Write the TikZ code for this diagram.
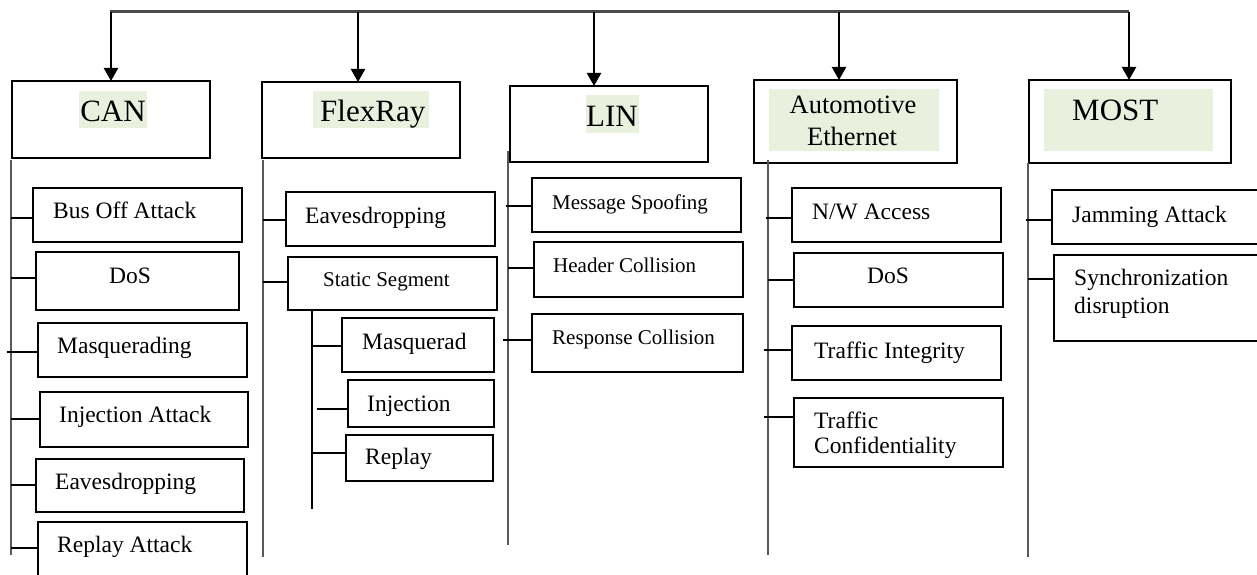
\documentclass[tikz,border=0pt]{standalone}
\usepackage{fontspec}
\setmainfont{Liberation Serif}
\usetikzlibrary{arrows.meta}
\definecolor{hl}{RGB}{233,240,222}
\newcommand\fsz[1]{\fontsize{#1}{#1}\selectfont}
\newcommand\abox[5]{\node[bx, anchor=north west, minimum width={#4-#2}, minimum height={#5-#3}] (#1) at (#2,#3) {};}
\newcommand\hlrect[5]{\node[hlb, anchor=north west, minimum width={#4-#2}, minimum height={#5-#3}] (#1) at (#2,#3) {};}
\newcommand\tick[4][0]{\draw[tk] ([xshift=#1pt]#2 |- 0,#4) -- (#3.west |- 0,#4);}
\begin{document}
\begin{tikzpicture}[x=1pt,y=-1pt,
  bx/.style={draw=black, line width=2.3pt, inner sep=0pt, outer sep=0pt},
  hlb/.style={fill=hl, draw=none, inner sep=0pt, outer sep=0pt},
  hd/.style={inner sep=0pt, font=\fsz{31}, text height=20.5pt, text depth=0pt},
  hds/.style={inner sep=0pt, font=\fsz{26.5}, text height=17.5pt, text depth=0pt},
  lb/.style={inner sep=0pt, anchor=west, font=\fsz{23.5}, text height=15.5pt, text depth=0pt},
  lbs/.style={inner sep=0pt, anchor=west, font=\fsz{21}, text height=13.9pt, text depth=0pt},
  topln/.style={line width=3pt, draw=black!70},
  arr/.style={line width=2.3pt, -{Triangle[width=14pt,length=13pt]}},
  vln/.style={line width=2.8pt, draw=black!65},
  tk/.style={line width=2pt, draw=black}]
\clip (0,0) rectangle (1257,575);
\fill[white] (0,0) rectangle (1257,575);
% top line and arrows
\coordinate (tL) at (110,12);
\coordinate (tR) at (1129,12);
\draw[topln] (tL) -- (tR);
\coordinate (a1) at (111,12);
\coordinate (a2) at (358,12);
\coordinate (a3) at (594,12);
\coordinate (a4) at (839,12);
\coordinate (a5) at (1129,12);
% header boxes
\abox{can}{12}{81}{210}{158}
\abox{flx}{262}{82}{460}{158}
\abox{lin}{510}{86}{708}{162}
\abox{aet}{754}{80}{957}{163}
\abox{most}{1029}{80}{1231}{163}
\draw[arr] (a1) -- (a1 |- can.north);
\draw[arr] (a2) -- (a2 |- flx.north);
\draw[arr] (a3) -- (a3 |- lin.north);
\draw[arr] (a4) -- (a4 |- aet.north);
\draw[arr] (a5) -- (a5 |- most.north);
% highlights
\hlrect{canhl}{79}{91}{147}{128}
\hlrect{flxhl}{313}{91}{429}{128}
\hlrect{linhl}{586}{95}{639}{133}
\hlrect{aethl}{769}{89}{939}{151}
\hlrect{mosthl}{1044}{89}{1213}{151}
\node[hd] (cant) at (113,111) {CAN};
\node[hd, anchor=west] (flxt) at (320,111) {FlexRay};
\node[hd] (lint) at (612,116) {LIN};
\node[hds] (aet1) at (853,105) {Automotive};
\node[hds] (aet2) at (852,137) {Ethernet};
\node[hd, anchor=west] (mostt) at (1072,110.5) {MOST};
% vertical lines
\coordinate (canT) at (11,160);  \coordinate (canB) at (11,555);
\coordinate (flxT) at (263,160); \coordinate (flxB) at (263,557);
\coordinate (linT) at (508,151); \coordinate (linB) at (508,545);
\coordinate (aetT) at (768,160); \coordinate (aetB) at (768,555);
\coordinate (mosT) at (1028,163); \coordinate (mosB) at (1028,557);
\draw[vln] (canT) -- (canB);
\draw[vln] (flxT) -- (flxB);
\draw[vln] (linT) -- (linB);
\draw[vln] (aetT) -- (aetB);
\draw[vln] (mosT) -- (mosB);
% CAN items
\abox{c1}{33}{188}{242}{242}
\abox{c2}{36}{252}{239}{310}
\abox{c3}{38}{323}{247}{377}
\abox{c4}{40}{392}{248}{447}
\abox{c5}{36}{459}{244}{512}
\abox{c6}{38}{522}{247}{600}
\node[lb] (c1t) at (53,211) {Bus Off Attack};
\node[lb, anchor=center] (c2t) at (130,276) {DoS};
\node[lb] (c3t) at (57,345.5) {Masquerading};
\node[lb] (c4t) at (59,415) {Injection Attack};
\node[lb] (c5t) at (55,481.5) {Eavesdropping};
\node[lb] (c6t) at (57,545) {Replay Attack};
\tick{canT}{c1}{218}
\tick{canT}{c2}{278}
\tick[-4]{canT}{c3}{352}
\tick{canT}{c4}{419}
\tick{canT}{c5}{485}
\tick{canT}{c6}{548}
% FlexRay items
\abox{f1}{286}{192}{495}{246}
\abox{f2}{288}{257}{497}{310}
\abox{f3}{342}{318}{494}{372}
\abox{f4}{348}{380}{494}{427}
\abox{f5}{346}{435}{493}{481}
\node[lb] (f1t) at (305,216) {Eavesdropping};
\node[lbs] (f2t) at (323,280) {Static Segment};
\node[lb] (f3t) at (362,341.5) {Masquerad};
\node[lb] (f4t) at (367,403.5) {Injection};
\node[lb] (f5t) at (365,457) {Replay};
\tick{flxT}{f1}{220}
\tick{flxT}{f2}{282}
\coordinate (fsT) at (312,310); \coordinate (fsB) at (312,509);
\draw[tk] (fsT) -- (fsB);
\tick{fsT}{f3}{346}
\tick[5]{fsT}{f4}{409}
\tick{fsT}{f5}{453}
% LIN items
\abox{l1}{532}{178}{741}{232}
\abox{l2}{534}{242}{743}{297}
\abox{l3}{532}{314}{743}{372}
\node[lbs] (l1t) at (552,202.5) {Message Spoofing};
\node[lbs] (l2t) at (553,266) {Header Collision};
\node[lbs] (l3t) at (552,337.5) {Response Collision};
\tick[-2]{linT}{l1}{206}
\tick{linT}{l2}{268}
\tick[-5]{linT}{l3}{340}
% Automotive Ethernet items
\abox{e1}{792}{188}{1001}{242}
\abox{e2}{794}{253}{1003}{307}
\abox{e3}{792}{326}{1001}{380}
\abox{e4}{794}{398}{1003}{467}
\node[lb] (e1t) at (812,211.5) {N/W Access};
\node[lb, anchor=center] (e2t) at (888,276) {DoS};
\node[lb] (e3t) at (814,350.5) {Traffic Integrity};
\node[lb] (e4t) at (814,420.5) {Traffic};
\node[lb] (e4u) at (814,446) {Confidentiality};
\tick[-2]{aetT}{e1}{218}
\tick{aetT}{e2}{280}
\tick[-4]{aetT}{e3}{350}
\tick[-4]{aetT}{e4}{417}
% MOST items
\abox{m1}{1052}{190}{1300}{244}
\abox{m2}{1054}{255}{1300}{341}
\node[lb] (m1t) at (1072,214.5) {Jamming Attack};
\node[lb] (m2t) at (1074,278) {Synchronization};
\node[lb] (m2u) at (1074,305.5) {disruption};
\tick[-2]{mosT}{m1}{220}
\tick{mosT}{m2}{279}
\end{tikzpicture}
\end{document}
